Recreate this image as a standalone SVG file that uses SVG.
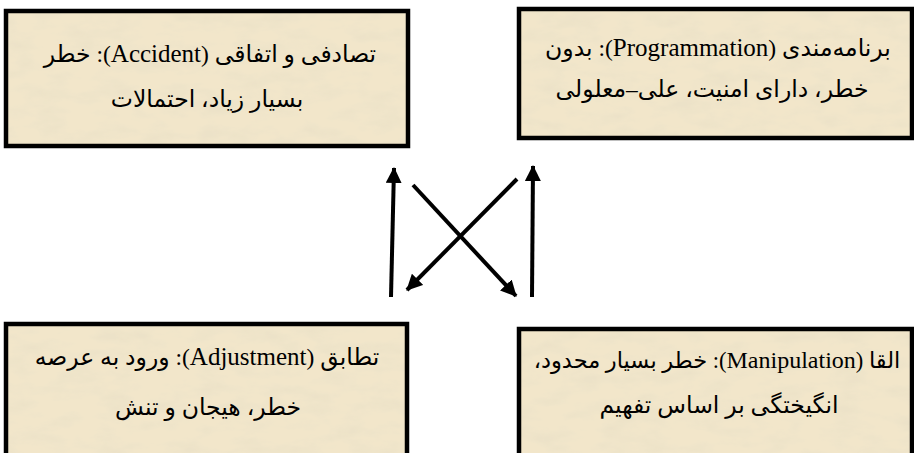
<svg xmlns="http://www.w3.org/2000/svg" width="914" height="453" viewBox="0 0 914 453">
  <defs>
    <filter id="parch" x="0" y="0" width="100%" height="100%">
      <feTurbulence type="fractalNoise" baseFrequency="0.03 0.07" numOctaves="4" seed="7" result="n"/>
      <feColorMatrix in="n" type="matrix" values="0 0 0 0 0.84  0 0 0 0 0.76  0 0 0 0 0.58  0 0 0 2.6 -1.15" result="c"/>
      <feComposite in="c" in2="SourceGraphic" operator="in" result="spots"/>
      <feMerge><feMergeNode in="SourceGraphic"/><feMergeNode in="spots"/></feMerge>
    </filter>
    <marker id="ah" markerUnits="userSpaceOnUse" markerWidth="16" markerHeight="16" viewBox="0 0 16 16" refX="15" refY="8" orient="auto">
      <path d="M0,0 L16,8 L0,16 Z" fill="#000"/>
    </marker>
  </defs>
  <style>
    .bg { fill: #F2E6CA; stroke: none; }
    .box { fill: none; stroke: #000; stroke-width: 4.5; }
    .tx { font-family: "Liberation Serif", "DejaVu Sans", serif; font-size: 23.5px; fill: #000; text-anchor: middle; direction: rtl; }
    .la { font-family: "Liberation Serif", serif; font-size: 25px; }
    .arr { stroke: #000; stroke-width: 4; fill: none; marker-end: url(#ah); }
  </style>
  <rect width="914" height="453" fill="#fff"/>
  <g id="accident">
    <rect class="bg" x="6" y="11" width="402" height="135" filter="url(#parch)"/>
    <rect class="box" x="6" y="11" width="402" height="135"/>
    <text class="tx" x="210" y="62">تصادفی و اتفاقی (<tspan class="la">Accident</tspan>): خطر</text>
    <text class="tx" x="207" y="107">بسیار زیاد، احتمالات</text>
  </g>
  <g id="programmation">
    <rect class="bg" x="519" y="9" width="393" height="129" filter="url(#parch)"/>
    <rect class="box" x="519" y="9" width="393" height="129"/>
    <text class="tx" x="718" y="56">برنامه‌مندی (<tspan class="la">Programmation</tspan>): بدون</text>
    <text class="tx" x="712" y="97">خطر، دارای امنیت، علی–معلولی</text>
  </g>
  <g id="adjustment">
    <rect class="bg" x="6" y="324" width="401" height="140" filter="url(#parch)"/>
    <rect class="box" x="6" y="324" width="401" height="140"/>
    <text class="tx" x="207" y="365">تطابق (<tspan class="la">Adjustment</tspan>): ورود به عرصه</text>
    <text class="tx" x="208" y="415">خطر، هیجان و تنش</text>
  </g>
  <g id="manipulation">
    <rect class="bg" x="519" y="329" width="393" height="140" filter="url(#parch)"/>
    <rect class="box" x="519" y="329" width="393" height="140"/>
    <text class="tx" x="717" y="368" style="font-size:22.5px">القا (<tspan class="la" style="font-size:24px">Manipulation</tspan>): خطر بسیار محدود،</text>
    <text class="tx" x="719" y="413">انگیختگی بر اساس تفهیم</text>
  </g>
  <g id="connectors">
    <line class="arr" x1="391" y1="297" x2="394" y2="168"/>
    <line class="arr" x1="532" y1="297" x2="533" y2="166"/>
    <line class="arr" x1="413" y1="185" x2="516" y2="296"/>
    <line class="arr" x1="517" y1="179" x2="407" y2="290"/>
  </g>
</svg>
